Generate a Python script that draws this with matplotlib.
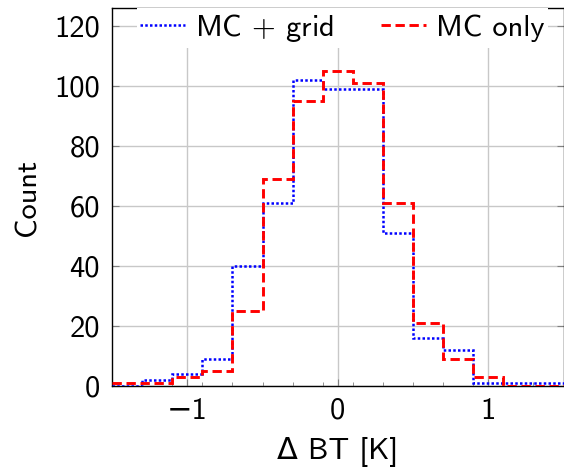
import numpy as np
import matplotlib
matplotlib.use("Agg")
import matplotlib.pyplot as plt

# Histogram bin edges (Delta BT in K) and counts
bin_edges = [-1.5, -1.3, -1.1, -0.9, -0.7, -0.5, -0.3, -0.1,
             0.1, 0.3, 0.5, 0.7, 0.9, 1.1, 1.3, 1.5]
counts_mc_grid = [0, 2, 4, 9, 40, 61, 102, 99, 99, 51, 16, 12, 1, 1, 1]
counts_mc_only = [1, 1, 3, 5, 25, 69, 95, 105, 101, 61, 21, 9, 3, 0, 0]
series_labels = ["MC $+$ grid", "MC only"]
x_major_ticks = [-1, 0, 1]
x_minor_ticks = [-1.5, -1.3, -1.1, -0.9, -0.7, -0.5, -0.3, -0.1,
                 0.1, 0.3, 0.5, 0.7, 0.9, 1.1, 1.3, 1.5]
y_ticks = [0, 20, 40, 60, 80, 100, 120]

plt.rcParams['font.family'] = ['cmss10', 'DejaVu Sans']
plt.rcParams['mathtext.fontset'] = 'custom'
plt.rcParams['mathtext.rm'] = 'cmss10'
plt.rcParams['mathtext.sf'] = 'cmss10'
plt.rcParams['axes.formatter.use_mathtext'] = False
plt.rcParams['axes.unicode_minus'] = True

FS = 22

fig = plt.figure(figsize=(5.64, 4.72), dpi=100)
ax = fig.add_axes([112 / 564, 1 - 386 / 472, 451.5 / 564, (386 - 8.3) / 472])

ax.stairs(counts_mc_grid, bin_edges, baseline=None, color='#0000ff',
          lw=1.8, linestyle=(0, (1.0, 0.9)), label=series_labels[0], zorder=3)
ax.stairs(counts_mc_only, bin_edges, baseline=None, color='#ff0000',
          lw=2.1, linestyle=(0, (3.2, 1.6)), label=series_labels[1], zorder=4)

ax.set_xlim(-1.5, 1.5)
ax.set_ylim(0, 126)
ax.set_xticks(x_major_ticks)
ax.set_xticklabels(['\u22121', '0', '1'])
ax.set_xticks(x_minor_ticks, minor=True)
ax.set_yticks(y_ticks)
ax.grid(True, which='major', color='#c8c8c8', lw=1.0, zorder=0)
ax.set_axisbelow(True)
ax.tick_params(which='both', direction='in', top=True, right=True,
               labelsize=FS, color='#808080', pad=8.6)
ax.tick_params(which='major', length=5)
ax.tick_params(which='minor', length=3)
for s in ax.spines.values():
    s.set_color('black')
    s.set_linewidth(1.0)

ax.set_xlabel('\u0394 BT [K]', fontsize=FS, labelpad=9)
ax.set_ylabel('Count', fontsize=FS, labelpad=9)

leg = ax.legend(loc='upper left', bbox_to_anchor=(0.055, 1.0), ncol=2,
                fontsize=FS, frameon=True,
                framealpha=1.0, edgecolor='none', facecolor='white',
                handlelength=1.47, handletextpad=0.33, columnspacing=1.54,
                borderpad=0.12, borderaxespad=0.0, fancybox=False)
leg.set_zorder(5)

fig.savefig('out.png', dpi=100)
